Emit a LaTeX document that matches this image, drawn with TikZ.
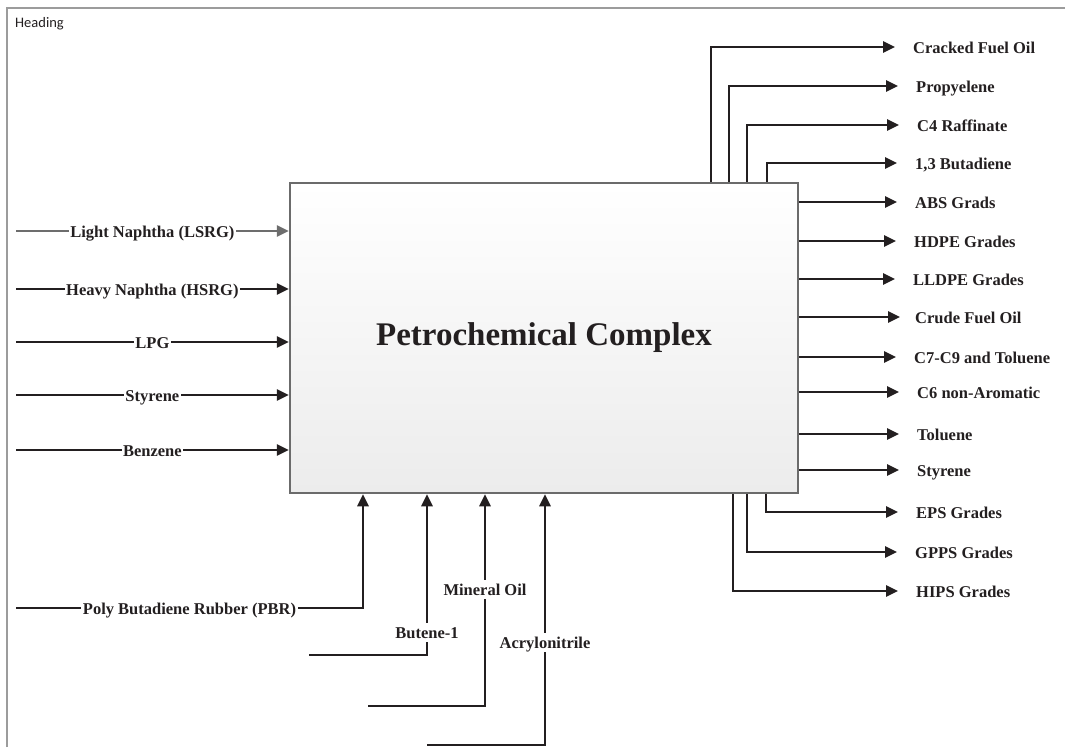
\documentclass[tikz,border=0pt]{standalone}
\usepackage{fontspec}
\setmainfont{Liberation Serif}
\newfontfamily\headfont{Carlito}
\usetikzlibrary{arrows.meta}
\definecolor{ink}{HTML}{231F20}
\definecolor{lightink}{HTML}{6D6D6D}
\definecolor{framegray}{HTML}{9C9C9C}
\definecolor{boxedge}{HTML}{6B6B6B}
\definecolor{boxlow}{HTML}{ECECEC}
\begin{document}
\begin{tikzpicture}[x=1pt,y=-1pt,
  flow/.style={ink,line width=2.6pt,-{Triangle[length=12pt,width=11pt]}},
  outflow/.style={flow,shorten >=18pt},
  tag/.style={font=\fontsize{16.5}{18}\selectfont\bfseries,text=ink,text height=14pt,text depth=2pt,inner xsep=1.5pt,inner ysep=1.5pt},
  onl/.style={tag,fill=white},
  outl/.style={tag,anchor=west,inner xsep=0pt}]
\useasboundingbox (0,0) rectangle (1065,747);
\draw[framegray,line width=1.6pt] (7,747) -- (7,8) -- (1065,8);
\node[anchor=west,inner sep=0pt,font=\headfont\fontsize{14.5}{16}\selectfont,text=ink] (head) at (15,24) {Heading};

% the complex
\node[draw=boxedge,line width=2.5pt,top color=white,bottom color=boxlow,
  minimum width=508pt,minimum height=310pt,
  font=\fontsize{33}{36}\selectfont\bfseries,text=ink] (pc) at (544,338) {Petrochemical Complex};

% feeds from the left
\coordinate (s1) at (16,231);
\coordinate (s2) at (16,289);
\coordinate (s3) at (16,342);
\coordinate (s4) at (16,395);
\coordinate (s5) at (16,450);
\draw[flow,lightink] (s1) -- node[onl] (lsrg) {Light Naphtha (LSRG)} (s1 -| pc.west);
\draw[flow] (s2) -- node[onl] (hsrg) {Heavy Naphtha (HSRG)} (s2 -| pc.west);
\draw[flow] (s3) -- node[onl] (lpg) {LPG} (s3 -| pc.west);
\draw[flow] (s4) -- node[onl] (styin) {Styrene} (s4 -| pc.west);
\draw[flow] (s5) -- node[onl] (benz) {Benzene} (s5 -| pc.west);

% feeds from below
\coordinate (s6) at (16,608);  \coordinate (k6) at (363,608);
\coordinate (s7) at (309,655); \coordinate (k7) at (427,655);
\coordinate (s8) at (368,706); \coordinate (k8) at (485,706);
\coordinate (s9) at (427,745); \coordinate (k9) at (545,745);
\draw[flow] (s6) -- node[onl] (pbr) {Poly Butadiene Rubber (PBR)} (k6) -- (k6 |- pc.south);
\draw[flow] (s7) -- (k7) -- node[onl,pos=0.14] (but) {Butene-1} (k7 |- pc.south);
\draw[flow] (s8) -- (k8) -- node[onl,pos=0.55] (mo) {Mineral Oil} (k8 |- pc.south);
\draw[flow] (s9) -- (k9) -- node[onl,pos=0.41] (acn) {Acrylonitrile} (k9 |- pc.south);

% products
\node[outl] (cfo) at (913,47) {Cracked Fuel Oil};
\node[outl] (prop) at (916,86) {Propyelene};
\node[outl] (raff) at (917,125) {C4 Raffinate};
\node[outl] (buta) at (915,163) {1,3 Butadiene};
\node[outl] (abs) at (915,202) {ABS Grads};
\node[outl] (hdpe) at (914,241) {HDPE Grades};
\node[outl] (lldpe) at (913,279) {LLDPE Grades};
\node[outl] (crude) at (915,317) {Crude Fuel Oil};
\node[outl] (ctol) at (914,357) {C7-C9 and Toluene};
\node[outl] (cnon) at (917,392) {C6 non-Aromatic};
\node[outl] (tol) at (917,434) {Toluene};
\node[outl] (styout) at (917,470) {Styrene};
\node[outl] (eps) at (916,512) {EPS Grades};
\node[outl] (gpps) at (915,552) {GPPS Grades};
\node[outl] (hips) at (916,591) {HIPS Grades};

\coordinate (u1) at (711,0);
\coordinate (u2) at (729,0);
\coordinate (u3) at (747,0);
\coordinate (u4) at (767,0);
\coordinate (d1) at (766,0);
\coordinate (d2) at (747,0);
\coordinate (d3) at (733,0);
\draw[outflow] (u1 |- pc.north) |- (cfo.west);
\draw[outflow] (u2 |- pc.north) |- (prop.west);
\draw[outflow] (u3 |- pc.north) |- (raff.west);
\draw[outflow] (u4 |- pc.north) |- (buta.west);
\draw[outflow] (pc.east |- abs.west) -- (abs.west);
\draw[outflow] (pc.east |- hdpe.west) -- (hdpe.west);
\draw[outflow] (pc.east |- lldpe.west) -- (lldpe.west);
\draw[flow,shorten >=15pt] (pc.east |- crude.west) -- (crude.west);
\draw[outflow] (pc.east |- ctol.west) -- (ctol.west);
\draw[outflow] (pc.east |- cnon.west) -- (cnon.west);
\draw[outflow] (pc.east |- tol.west) -- (tol.west);
\draw[outflow] (pc.east |- styout.west) -- (styout.west);
\draw[outflow] (d1 |- pc.south) |- (eps.west);
\draw[outflow] (d2 |- pc.south) |- (gpps.west);
\draw[outflow] (d3 |- pc.south) |- (hips.west);
\end{tikzpicture}
\end{document}
